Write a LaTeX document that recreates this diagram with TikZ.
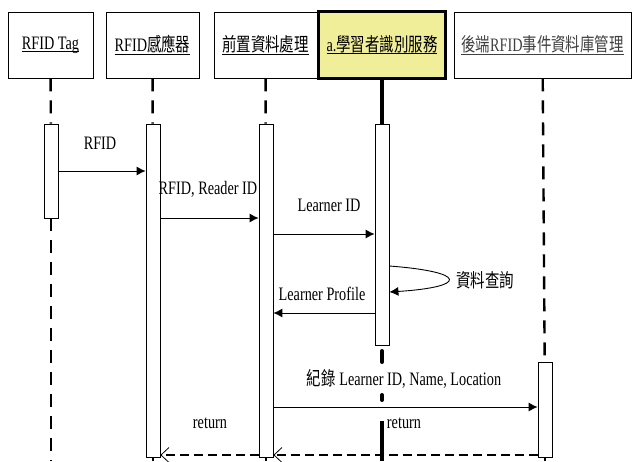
\documentclass[tikz,border=0pt]{standalone}
\usepackage{fontspec}
\setmainfont{Liberation Serif}[FakeStretch=0.75]
\newfontfamily\cjk{Noto Sans CJK TC}[FakeStretch=0.76]
\usetikzlibrary{arrows.meta,
                positioning}

\definecolor{svcyellow}{RGB}{240,238,152}
\newcommand{\titleul}[1]{\setbox0\hbox{#1}\rlap{\rule[-3pt]{\wd0}{1pt}}\box0}

\tikzset{
    head/.style={draw, line width=0.8pt, minimum height=66pt, inner sep=0pt},
    bar/.style={draw, fill=white, line width=0.8pt, minimum width=14pt, inner sep=0pt},
    life/.style={line width=2.4pt, dash pattern=on 13pt off 9pt},
    msg/.style={-{Latex[length=9pt,width=9pt]}, line width=0.9pt},
    ret/.style={-{Straight Barb[length=8pt,width=15pt,line width=0.8pt]}, line width=2.8pt, dash pattern=on 9pt off 5pt},
    lbl/.style={inner sep=1pt}
}

\begin{document}
\begin{tikzpicture}[x=1pt, y=-1pt, font=\fontsize{19}{22}\selectfont]
    \useasboundingbox (0,0) rectangle (632,461);

    % heads
    \node[head, minimum width=85pt] (tag) at (50.5,45) {\titleul{RFID Tag}};
    \node[head, minimum width=93pt] (rdr) at (152.5,45) {\titleul{RFID{\cjk 感應器}}};
    \node[head, minimum width=103pt] (pre) at (265.5,45) {\titleul{\cjk 前置資料處理}};
    \node[head, minimum width=177pt] (db) at (542.5,45) {\color{black!75}\titleul{{\cjk 後端}RFID{\cjk 事件資料庫管理}}};
    \node[head, line width=3.2pt, fill=svcyellow, minimum width=127pt, minimum height=67pt] (svc) at (382,45) {\titleul{a.{\cjk 學習者識別服務}}};

    % activation bars
    \node[bar, minimum height=94pt] (tagbar) at (51,171) {};
    \node[bar, minimum height=333pt] (rdrbar) at (153,290.5) {};
    \node[bar, minimum height=333pt] (prebar) at (266,290.5) {};
    \node[bar, minimum height=221pt] (svcbar) at (382,234.5) {};
    \node[bar, minimum height=95pt] (dbbar) at (545,409.5) {};

    \coordinate (tagend) at (51,461);
    \coordinate (rdrend) at (153,461);
    \coordinate (preend) at (266,461);
    \coordinate (dbend) at (545,461);

    % lifelines
    \draw[life] (tag) -- (tagbar);
    \draw[life] (tagbar.south) -- (tagend);
    \draw[life] (rdr) -- (rdrbar);
    \draw[life] (rdrbar.south) -- (rdrend);
    \draw[life] (pre) -- (prebar);
    \draw[life] (prebar.south) -- (preend);
    \draw[life] (db) -- (dbbar);
    \draw[life] (dbbar.south) -- (dbend);

    % messages
    \node[lbl] (lrfid) at (100,143) {RFID};
    \draw[msg] (tagbar.east |- 0,171) -- (rdrbar.west |- 0,171);

    \node[lbl] (lreader) at (208,189) {RFID, Reader ID};
    \draw[msg] (rdrbar.east |- 0,218) -- (prebar.west |- 0,218);

    \node[lbl] (llearner) at (329,205) {Learner ID};
    \draw[msg] (prebar.east |- 0,234) -- (svcbar.west |- 0,234);

    \node[lbl] (lquery) at (485,280) {\cjk 資料查詢};
    \draw[msg] (svcbar.east |- 0,266) .. controls (468,272) and (468,287) .. (svcbar.east |- 0,292);

    \node[lbl] (lprofile) at (322,294) {Learner Profile};
    \draw[msg] (svcbar.west |- 0,313) -- (prebar.east |- 0,313);

    \draw[msg] (prebar.east |- 0,407) -- (dbbar.west |- 0,407);
    \node[lbl, fill=white] (lrecord) at (404,379) {{\cjk 紀錄} Learner ID, Name, Location};

    % returns
    \node[lbl] (lret1) at (210,423) {return};
    \node[lbl] (lret2) at (404,423) {return};
    \draw[ret] (dbbar.west |- 0,455) -- (prebar.east |- 0,455);
    \draw[ret] (prebar.west |- 0,455) -- (rdrbar.east |- 0,455);

    % service lifeline
    \draw[line width=4pt] (svc) -- (svcbar);
    \draw[line width=4pt, line cap=round] (svcbar.south |- 0,351) -- (svcbar.south |- 0,362);
    \draw[line width=4pt, line cap=round] (svcbar.south |- 0,395) -- (svcbar.south |- 0,400);
    \draw[line width=4pt] (svcbar.south |- 0,421) -- (svcbar.south |- 0,461);
\end{tikzpicture}
\end{document}
